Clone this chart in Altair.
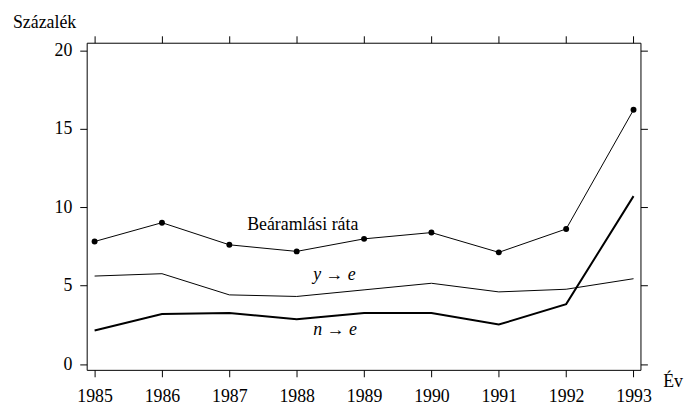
import altair as alt
import pandas as pd

years = [1985, 1986, 1987, 1988, 1989, 1990, 1991, 1992, 1993]
inflow = [7.81, 9.01, 7.60, 7.18, 7.98, 8.38, 7.12, 8.61, 16.2]
y_to_e = [5.61, 5.76, 4.41, 4.31, 4.73, 5.15, 4.60, 4.77, 5.44]
n_to_e = [2.14, 3.19, 3.26, 2.86, 3.26, 3.26, 2.52, 3.82, 10.7]

y_ticks = [0, 5, 10, 15, 20]

ann_labels = ["Beáramlási ráta", "y → e", "n → e"]
ann_x = [1988.09, 1988.56, 1988.57]
ann_y = [8.55, 5.34, 1.83]
ann_style = ["normal", "italic", "italic"]

FONT = "'Liberation Serif', 'Times New Roman', 'DejaVu Serif', serif"

df_in = pd.DataFrame({"year": years, "value": inflow})
df_y = pd.DataFrame({"year": years, "value": y_to_e})
df_n = pd.DataFrame({"year": years, "value": n_to_e})
df_ann = pd.DataFrame({"label": ann_labels, "year": ann_x, "value": ann_y, "style": ann_style})

x_scale = alt.Scale(domain=[1984.8825, 1993.103], nice=False, zero=False)
y_scale = alt.Scale(domain=[-0.366, 20.473], nice=False, zero=False)

common = dict(tickSize=7, tickColor="black", tickWidth=1, domain=False, grid=False,
              title=None, labelFont=FONT, labelFontSize=18, labelColor="black")

x_bottom = alt.Axis(orient="bottom", values=years, format="d", labelPadding=11,
                    labelFlush=False, labelOverlap=False, **common)
x_top = alt.Axis(orient="top", values=years, labels=False, **common)
y_left = alt.Axis(orient="left", values=y_ticks, format="d", labelPadding=8, **common)
y_right = alt.Axis(orient="right", values=y_ticks, labels=False, **common)

line_in = alt.Chart(df_in).mark_line(color="black", strokeWidth=1).encode(
    x=alt.X("year:Q", scale=x_scale, axis=x_bottom),
    y=alt.Y("value:Q", scale=y_scale, axis=y_left),
)
pts_in = alt.Chart(df_in).mark_circle(color="black", size=36, opacity=1).encode(
    x=alt.X("year:Q", scale=x_scale, axis=x_top),
    y=alt.Y("value:Q", scale=y_scale, axis=y_right),
)
line_y = alt.Chart(df_y).mark_line(color="black", strokeWidth=1).encode(
    x=alt.X("year:Q", scale=x_scale, axis=None),
    y=alt.Y("value:Q", scale=y_scale, axis=None),
)
line_n = alt.Chart(df_n).mark_line(color="black", strokeWidth=2).encode(
    x=alt.X("year:Q", scale=x_scale, axis=None),
    y=alt.Y("value:Q", scale=y_scale, axis=None),
)
ann_normal = alt.Chart(df_ann[df_ann["style"] == "normal"]).mark_text(
    font=FONT, fontSize=18, color="black", align="center", baseline="alphabetic"
).encode(
    x=alt.X("year:Q", scale=x_scale, axis=None),
    y=alt.Y("value:Q", scale=y_scale, axis=None),
    text="label:N",
)
ann_italic = alt.Chart(df_ann[df_ann["style"] == "italic"]).mark_text(
    font=FONT, fontSize=18, fontStyle="italic", color="black", align="center", baseline="alphabetic"
).encode(
    x=alt.X("year:Q", scale=x_scale, axis=None),
    y=alt.Y("value:Q", scale=y_scale, axis=None),
    text="label:N",
)
y_title = alt.Chart(pd.DataFrame({"t": ["Százalék"]})).mark_text(
    font=FONT, fontSize=18, color="black", align="left", baseline="alphabetic"
).encode(x=alt.value(-74.5), y=alt.value(-15), text="t:N")
x_title = alt.Chart(pd.DataFrame({"t": ["Év"]})).mark_text(
    font=FONT, fontSize=18, color="black", align="left", baseline="alphabetic"
).encode(x=alt.value(582.5), y=alt.value(348), text="t:N")

chart = alt.layer(
    line_in, pts_in, line_y, line_n, ann_normal, ann_italic, y_title, x_title
).resolve_axis(x="independent", y="independent").properties(
    width=559.5,
    height=330.5,
    autosize=alt.AutoSizeParams(type="none"),
    padding={"left": 79.5, "top": 33, "right": 46, "bottom": 42},
    background="white",
).configure_view(stroke="black", strokeWidth=1)

chart.save("out.html", embed_options={"renderer": "svg", "actions": False})
